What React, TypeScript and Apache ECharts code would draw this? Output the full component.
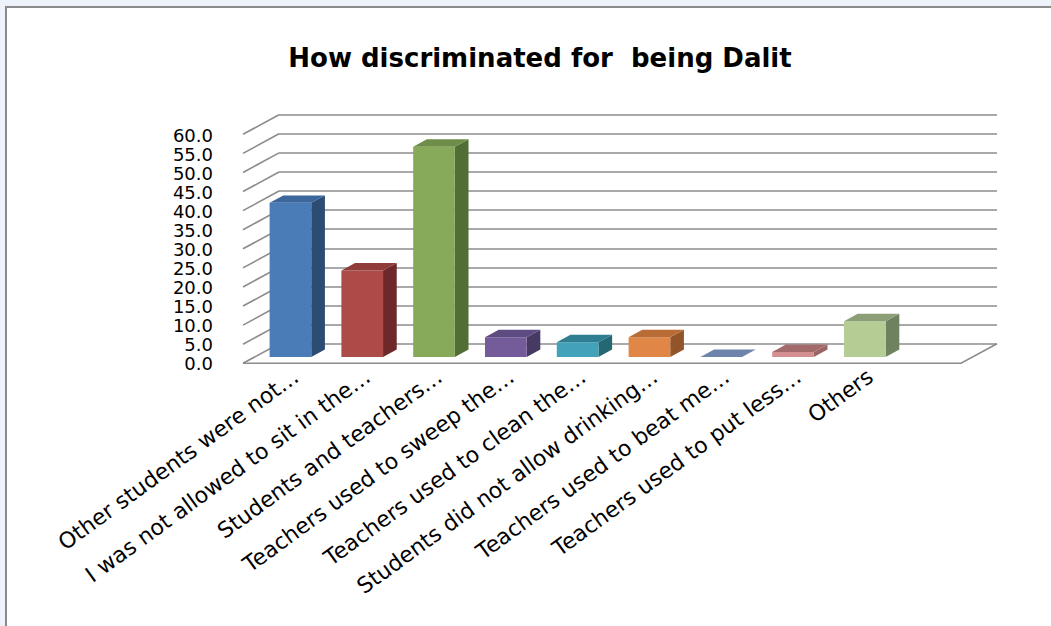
import React, { useEffect, useRef } from "react";
import * as echarts from "echarts";

const categories = [
  "Other students were not…",
  "I was not allowed to sit in the…",
  "Students and teachers…",
  "Teachers used to sweep the…",
  "Teachers used to clean the…",
  "Students did not allow drinking…",
  "Teachers used to beat me…",
  "Teachers used to put less…",
  "Others",
];
const values = [40.4, 22.7, 55.1, 5.2, 3.9, 5.2, 0, 1.3, 9.4];
const yTicks = [0, 5, 10, 15, 20, 25, 30, 35, 40, 45, 50, 55, 60];
const titleText = "How discriminated for  being Dalit";

// front, side, top colours per bar
const barColors = [
  ["#4a7db8", "#2c4c72", "#3b679c"],
  ["#ad4b48", "#6e2829", "#8f3c3b"],
  ["#86a95a", "#506e36", "#6d8d48"],
  ["#735c99", "#473a62", "#5d4b82"],
  ["#42a2b9", "#246874", "#2f7d90"],
  ["#e08748", "#925429", "#b96c35"],
  ["#6f84aa", "#4c5f82", "#6f84aa"],
  ["#d49090", "#9c6464", "#a26a6a"],
  ["#b5cd95", "#6f8260", "#8c9f77"],
];

export default function App() {
  const ref = useRef<HTMLDivElement>(null);
  useEffect(() => {
    const chart = echarts.init(ref.current!, null, { renderer: "svg" });
    const DX = -36;
    const DY = 19.6;
    const F_FRONT = 0.68;
    const F_BACK = 0.3;
    const gridColor = "#8c8c8c";
    const xCats = [...categories, ""];
    const font = "DejaVu Sans";

    chart.setOption({
      animation: false,
      backgroundColor: "#eef2fa",
      title: {
        text: titleText,
        left: 535,
        top: 40,
        textAlign: "center",
        textStyle: { fontFamily: font, fontWeight: "bold", fontSize: 26, color: "#000" },
      },
      graphic: [
        {
          type: "rect",
          z: -10,
          shape: { x: 6, y: 7, width: 1100, height: 700 },
          style: { fill: "#ffffff", stroke: "#8a8a8a", lineWidth: 2 },
        },
      ],
      grid: [
        { left: 279, top: 114.7, width: 718, height: 229 },
        { left: 243, top: 135, width: 718, height: 228 },
        { left: 260, top: 100, width: 718, height: 270 },
      ],
      xAxis: [
        { gridIndex: 0, type: "category", data: xCats, show: false },
        { gridIndex: 1, type: "category", data: xCats, show: false },
        {
          gridIndex: 2,
          type: "category",
          data: xCats,
          axisLine: { show: false },
          axisTick: { show: false },
          axisLabel: {
            interval: 0,
            rotate: 36,
            margin: 4,
            fontFamily: font,
            fontSize: 22,
            color: "#000",
          },
        },
      ],
      yAxis: [
        {
          gridIndex: 0,
          type: "value",
          min: 0,
          max: 60,
          interval: 5,
          axisLine: { show: false },
          axisTick: { show: false },
          axisLabel: { show: false },
          splitLine: { lineStyle: { color: gridColor, width: 1.6 } },
        },
        {
          gridIndex: 1,
          type: "value",
          min: 0,
          max: 60,
          interval: 5,
          axisLine: { show: false },
          axisTick: { show: false },
          splitLine: { show: false },
          axisLabel: {
            margin: 30,
            showMinLabel: true,
            showMaxLabel: true,
            hideOverlap: false,
            fontFamily: font,
            fontSize: 18,
            lineHeight: 18,
            color: "#000",
            formatter: (v: number) => v.toFixed(1),
          },
        },
        { gridIndex: 2, type: "value", show: false },
      ],
      series: [
        {
          type: "custom",
          xAxisIndex: 0,
          yAxisIndex: 0,
          silent: true,
          data: yTicks.map((v) => [0, v]),
          renderItem: (params: any, api: any) => {
            const cs = params.coordSys;
            const v = api.value(1);
            const y = api.coord([0, v])[1];
            const x = cs.x;
            const st = { stroke: gridColor, lineWidth: 1.6 };
            const children: any[] = [
              { type: "line", shape: { x1: x, y1: y, x2: x + DX, y2: y + DY }, style: st },
            ];
            if (v === 0) {
              children.push({
                type: "polyline",
                shape: {
                  points: [
                    [x + DX, y + DY],
                    [x + cs.width + DX, y + DY],
                    [x + cs.width, y],
                  ],
                },
                style: { ...st, fill: null },
              });
            }
            return { type: "group", children };
          },
        },
        {
          type: "custom",
          xAxisIndex: 0,
          yAxisIndex: 0,
          data: values.map((v, i) => [i, v]),
          renderItem: (params: any, api: any) => {
            const i = api.value(0);
            const v = api.value(1);
            const base = api.coord([i, 0]);
            const top = api.coord([i, v]);
            const band = api.size([1, 0])[0];
            const w = band * 0.58;
            const cx = base[0] + DX * F_FRONT;
            const yb = base[1] + DY * F_FRONT;
            const yt = top[1] + DY * F_FRONT;
            const x0 = cx - w / 2;
            const x1 = cx + w / 2;
            const ddx = DX * (F_BACK - F_FRONT);
            const ddy = DY * (F_BACK - F_FRONT);
            const c = barColors[params.dataIndex % barColors.length];
            const children: any[] = [];
            if (yb - yt > 0.01) {
              children.push({
                type: "polygon",
                shape: { points: [[x1, yb], [x1, yt], [x1 + ddx, yt + ddy], [x1 + ddx, yb + ddy]] },
                style: { fill: c[1] },
              });
              children.push({
                type: "rect",
                shape: { x: x0, y: yt, width: w, height: yb - yt },
                style: { fill: c[0] },
              });
            }
            children.push({
              type: "polygon",
              shape: { points: [[x0, yt], [x1, yt], [x1 + ddx, yt + ddy], [x0 + ddx, yt + ddy]] },
              style: { fill: c[2] },
            });
            return { type: "group", children };
          },
        },
      ],
    });
    return () => chart.dispose();
  }, []);
  return (
    <div
      ref={ref}
      style={{ position: "absolute", left: 0, top: 0, width: 1051, height: 626 }}
    />
  );
}
